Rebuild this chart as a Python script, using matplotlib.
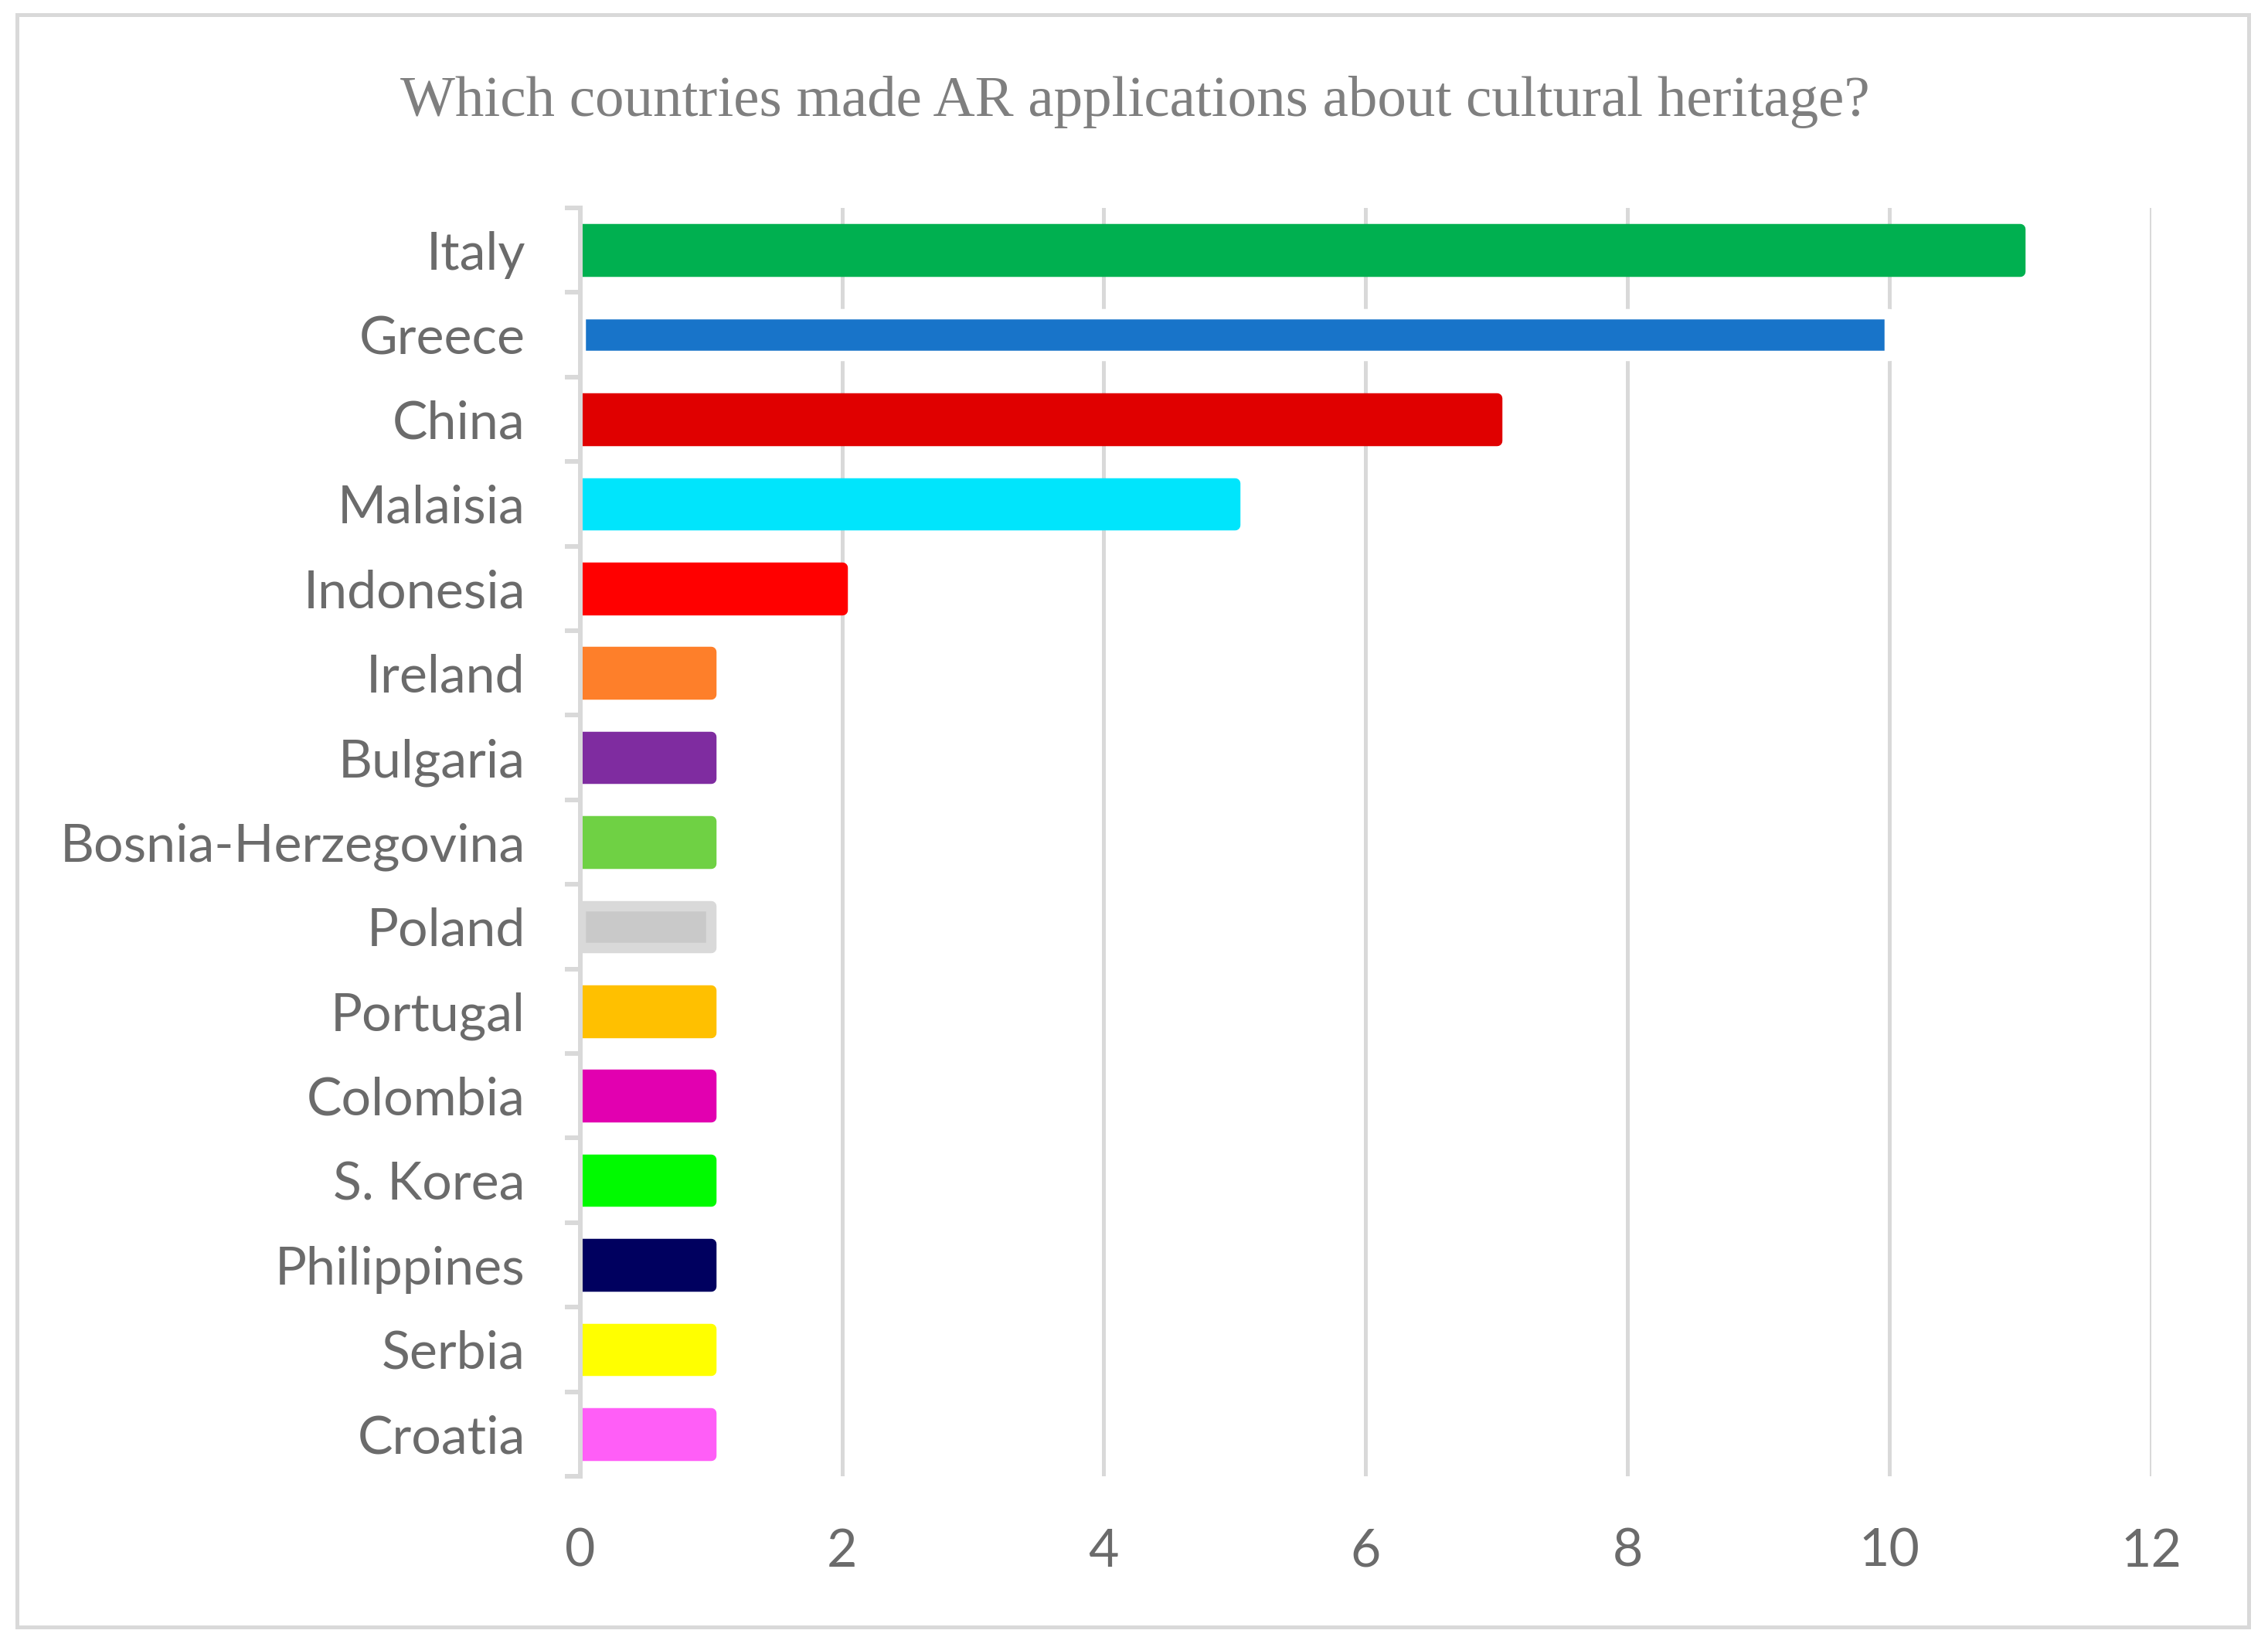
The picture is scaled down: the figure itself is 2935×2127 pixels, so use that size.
import matplotlib
matplotlib.use("Agg")
import matplotlib.pyplot as plt
from matplotlib.patches import Rectangle
import numpy as np

countries = ["Italy", "Greece", "China", "Malaisia", "Indonesia", "Ireland", "Bulgaria",
             "Bosnia-Herzegovina", "Poland", "Portugal", "Colombia", "S. Korea",
             "Philippines", "Serbia", "Croatia"]
values = [11, 10, 7, 5, 2, 1, 1, 1, 1, 1, 1, 1, 1, 1, 1]
colors = ["#00b050", "#1874c9", "#e00000", "#00e5fc", "#ff0000", "#fe7f2a", "#7f2ca0",
          "#6fd144", "#c9c9c9", "#ffc000", "#e200b0", "#00fa00", "#00005f", "#ffff00", "#ff5ef7"]
edge_colors = {"Greece": "#ffffff", "Poland": "#d9d9d9"}
xticks = [0, 2, 4, 6, 8, 10, 12]
title = "Which countries made AR applications about cultural heritage?"

W, H, DPI = 2935, 2127, 100
fig = plt.figure(figsize=(W / DPI, H / DPI), dpi=DPI)
px = 72 / DPI  # points per pixel

ax = fig.add_axes([750.7 / W, 1 - 1910 / H, (2783.6 - 750.7) / W, (1910 - 269) / H])

n = len(countries)
y = np.arange(n)
for i, (c, v, col) in enumerate(zip(countries, values, colors)):
    ec = edge_colors.get(c, col)
    bars = ax.barh(i, v, height=0.5, color=col, edgecolor=ec, linewidth=13.5 * px, zorder=3)
    for b in bars:
        b.set_joinstyle("round")

ax.set_ylim(n - 0.5, -0.5)
ax.set_xlim(0, 12)
ax.set_xticks(xticks)
ax.set_yticks(y)
ax.set_yticklabels(countries)
ax.set_yticks(np.arange(-0.5, n, 1), minor=True)

ax.grid(axis="x", color="#d9d9d9", linewidth=5 * px, zorder=0)
ax.set_axisbelow(True)
for s in ["top", "right", "bottom"]:
    ax.spines[s].set_visible(False)
ax.spines["left"].set_color("#d9d9d9")
ax.spines["left"].set_linewidth(6 * px)
ax.spines["left"].set_zorder(4)

lab_color = "#6b6b6b"
ax.tick_params(axis="y", which="major", length=0, pad=51, labelsize=49, labelcolor=lab_color)
ax.tick_params(axis="y", which="minor", length=20 * px, width=6 * px, color="#d9d9d9", direction="out")
ax.tick_params(axis="x", which="both", length=0, pad=48, labelsize=49, labelcolor=lab_color)
for lab in ax.get_yticklabels() + ax.get_xticklabels():
    lab.set_fontfamily("Lato")

fig.text(1469 / W, 1 - 132 / H, title, ha="center", va="center", fontsize=54,
         family="Liberation Serif", color="#7f7f7f")

fig.patches.append(Rectangle((22 / W, 1 - 2105 / H), (2910 - 22) / W, (2105 - 19) / H,
                             transform=fig.transFigure, fill=False,
                             edgecolor="#d9d9d9", linewidth=5 * px))

fig.savefig("out.png", dpi=DPI)
